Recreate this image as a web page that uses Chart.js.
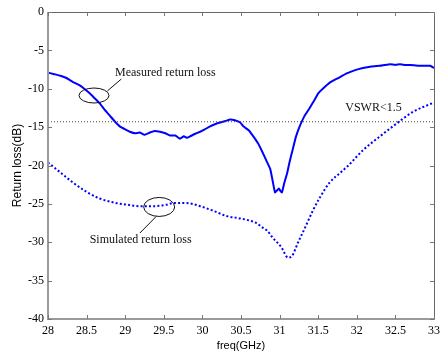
<!DOCTYPE html>
<html>
<head>
<meta charset="utf-8">
<script src="https://cdn.jsdelivr.net/npm/chart.js@4.4.0/dist/chart.umd.min.js"></script>
<style>
html,body{margin:0;padding:0;background:#fff;}
#wrap{width:445px;height:355px;position:relative;}
</style>
</head>
<body>
<div id="wrap"><canvas id="c"></canvas></div>
<script>
// ---- data ----
const measuredFreq = [28.00,28.08,28.16,28.24,28.32,28.40,28.47,28.54,28.60,28.67,28.73,28.80,28.86,28.93,29.00,29.06,29.13,29.19,29.25,29.32,29.38,29.45,29.52,29.58,29.65,29.71,29.76,29.80,29.84,29.90,29.97,30.03,30.10,30.17,30.23,30.30,30.36,30.42,30.49,30.53,30.60,30.66,30.72,30.78,30.83,30.88,30.91,30.94,30.97,30.99,31.01,31.03,31.06,31.10,31.13,31.17,31.21,31.26,31.32,31.39,31.45,31.50,31.57,31.65,31.76,31.87,31.97,32.08,32.19,32.30,32.36,32.43,32.50,32.56,32.63,32.69,32.80,32.90,32.95,33.00];
const measuredLoss = [-7.9,-8.1,-8.3,-8.6,-9.1,-9.5,-10.0,-10.6,-11.2,-11.9,-12.7,-13.5,-14.2,-14.9,-15.3,-15.6,-15.8,-15.7,-16.0,-15.7,-15.5,-15.6,-15.8,-16.1,-16.1,-16.5,-16.2,-16.4,-16.2,-15.9,-15.6,-15.3,-14.9,-14.6,-14.4,-14.2,-14.0,-14.1,-14.4,-14.9,-15.4,-16.2,-17.1,-18.3,-19.4,-20.5,-22.0,-23.5,-23.2,-23.0,-23.3,-23.5,-22.3,-20.9,-19.5,-17.9,-16.3,-14.9,-13.6,-12.5,-11.5,-10.6,-9.9,-9.2,-8.6,-8.0,-7.6,-7.3,-7.1,-7.0,-6.9,-6.8,-6.9,-6.8,-6.9,-6.9,-7.0,-7.0,-7.0,-7.3];
const simulatedFreq = [28.00,28.16,28.32,28.51,28.67,28.84,29.02,29.19,29.36,29.54,29.62,29.80,29.97,30.14,30.32,30.49,30.62,30.70,30.78,30.84,30.91,31.02,31.11,31.16,31.24,31.33,31.42,31.52,31.65,31.78,31.90,32.08,32.30,32.52,32.73,33.00];
const simulatedLoss = [-19.6,-20.9,-22.2,-23.5,-24.3,-24.8,-25.1,-25.3,-25.3,-25.1,-24.9,-24.9,-25.3,-25.9,-26.6,-26.9,-27.2,-27.5,-28.1,-28.5,-29.4,-30.6,-32.0,-31.8,-30.0,-28.1,-26.1,-24.2,-22.2,-21.0,-19.9,-18.0,-16.2,-14.5,-13.0,-11.8];
const vswrFreq = [28, 33];
const vswrLoss = [-14.3, -14.3];
const xTicks = [28,28.5,29,29.5,30,30.5,31,31.5,32,32.5,33];
const yTicks = [0,-5,-10,-15,-20,-25,-30,-35,-40];
const labels = {
  measured: "Measured return loss",
  simulated: "Simulated return loss",
  vswr: "VSWR<1.5",
  xTitle: "freq(GHz)",
  yTitle: "Return loss(dB)"
};

const zip = (xs, ys) => xs.map((x, i) => ({x: x, y: ys[i]}));

const decor = {
  id: 'decor',
  afterDatasetsDraw(chart) {
    const ctx = chart.ctx;
    const xs = chart.scales.x, ys = chart.scales.y;
    const a = chart.chartArea;
    ctx.save();
    // frame
    ctx.lineWidth = 1;
    ctx.strokeStyle = '#666';
    ctx.beginPath();
    ctx.moveTo(a.left, a.top + 0.5); ctx.lineTo(a.right + 0.5, a.top + 0.5); ctx.lineTo(a.right + 0.5, a.bottom);
    ctx.stroke();
    ctx.lineWidth = 2;
    ctx.strokeStyle = '#9a9a9a';
    ctx.beginPath();
    ctx.moveTo(a.left, a.top); ctx.lineTo(a.left, a.bottom); ctx.lineTo(a.right + 1, a.bottom);
    ctx.stroke();
    // inward ticks
    ctx.lineWidth = 1;
    ctx.strokeStyle = '#777';
    const tl = 4;
    xTicks.forEach(v => {
      const px = Math.round(xs.getPixelForValue(v)) + 0.5;
      ctx.beginPath();
      ctx.moveTo(px, a.bottom); ctx.lineTo(px, a.bottom - tl);
      ctx.moveTo(px, a.top); ctx.lineTo(px, a.top + tl);
      ctx.stroke();
    });
    yTicks.forEach(v => {
      const py = Math.round(ys.getPixelForValue(v)) + 0.5;
      ctx.beginPath();
      ctx.moveTo(a.left, py); ctx.lineTo(a.left + tl, py);
      ctx.moveTo(a.right, py); ctx.lineTo(a.right - tl, py);
      ctx.stroke();
    });
    // annotations
    ctx.strokeStyle = '#111';
    ctx.fillStyle = '#111';
    ctx.lineWidth = 1;
    ctx.font = '12px "Liberation Serif"';
    ctx.textBaseline = 'middle';
    ctx.textAlign = 'left';
    // measured
    let cx = xs.getPixelForValue(28.596), cy = ys.getPixelForValue(-10.88);
    ctx.beginPath(); ctx.ellipse(cx, cy, 15, 7.5, 0, 0, Math.PI * 2); ctx.stroke();
    ctx.beginPath();
    ctx.moveTo(xs.getPixelForValue(28.77), ys.getPixelForValue(-10.28));
    ctx.lineTo(xs.getPixelForValue(28.95), ys.getPixelForValue(-8.73));
    ctx.stroke();
    ctx.fillText(labels.measured, xs.getPixelForValue(28.868), ys.getPixelForValue(-7.99));
    // simulated
    cx = xs.getPixelForValue(29.44); cy = ys.getPixelForValue(-25.4);
    ctx.beginPath(); ctx.ellipse(cx, cy, 15.5, 9.5, 0, 0, Math.PI * 2); ctx.stroke();
    ctx.beginPath();
    ctx.moveTo(xs.getPixelForValue(29.40), ys.getPixelForValue(-26.66));
    ctx.lineTo(xs.getPixelForValue(29.19), ys.getPixelForValue(-28.8));
    ctx.stroke();
    ctx.fillText(labels.simulated, xs.getPixelForValue(28.54), ys.getPixelForValue(-29.7));
    // vswr
    ctx.fillText(labels.vswr, xs.getPixelForValue(31.85), ys.getPixelForValue(-12.5));
    ctx.restore();
  }
};

new Chart(document.getElementById('c'), {
  type: 'scatter',
  data: {
    datasets: [
      {
        label: 'VSWR', data: zip(vswrFreq, vswrLoss), showLine: true,
        borderColor: '#444', borderWidth: 1, borderDash: [1, 2], pointRadius: 0, fill: false
      },
      {
        label: 'Measured', data: zip(measuredFreq, measuredLoss), showLine: true,
        borderColor: '#0000ff', borderWidth: 2, pointRadius: 0, tension: 0.1, fill: false
      },
      {
        label: 'Simulated', data: zip(simulatedFreq, simulatedLoss), showLine: true,
        borderColor: '#0000ff', borderWidth: 2, borderDash: [2, 2.2], pointRadius: 0,
        cubicInterpolationMode: 'monotone', fill: false
      }
    ]
  },
  options: {
    responsive: true,
    maintainAspectRatio: false,
    animation: false,
    layout: {padding: {top: 12, right: 11, left: 0, bottom: 0}},
    plugins: {legend: {display: false}, tooltip: {enabled: false}},
    scales: {
      x: {
        type: 'linear', min: 28, max: 33,
        afterFit: s => { s.height = 36; },
        afterBuildTicks: s => { s.ticks = xTicks.map(v => ({value: v})); },
        grid: {display: false, drawTicks: false},
        border: {display: false},
        ticks: {padding: 5, color: '#000', font: {family: 'Liberation Serif', size: 12}, maxRotation: 0, autoSkip: false,
          callback: v => String(v)},
        title: {display: true, text: labels.xTitle, color: '#000', font: {family: 'Liberation Sans', size: 11}, padding: {top: 0, bottom: 2}}
      },
      y: {
        type: 'linear', min: -40, max: 0,
        afterFit: s => { s.width = 48; },
        afterBuildTicks: s => { s.ticks = yTicks.map(v => ({value: v})); },
        grid: {display: false, drawTicks: false},
        border: {display: false},
        ticks: {padding: 4, color: '#000', font: {family: 'Liberation Serif', size: 12}, autoSkip: false,
          callback: v => String(v)},
        title: {display: true, text: labels.yTitle, color: '#000', font: {family: 'Liberation Sans', size: 12}, padding: {top: 10, bottom: 0}}
      }
    }
  },
  plugins: [decor]
});
</script>
</body>
</html>
